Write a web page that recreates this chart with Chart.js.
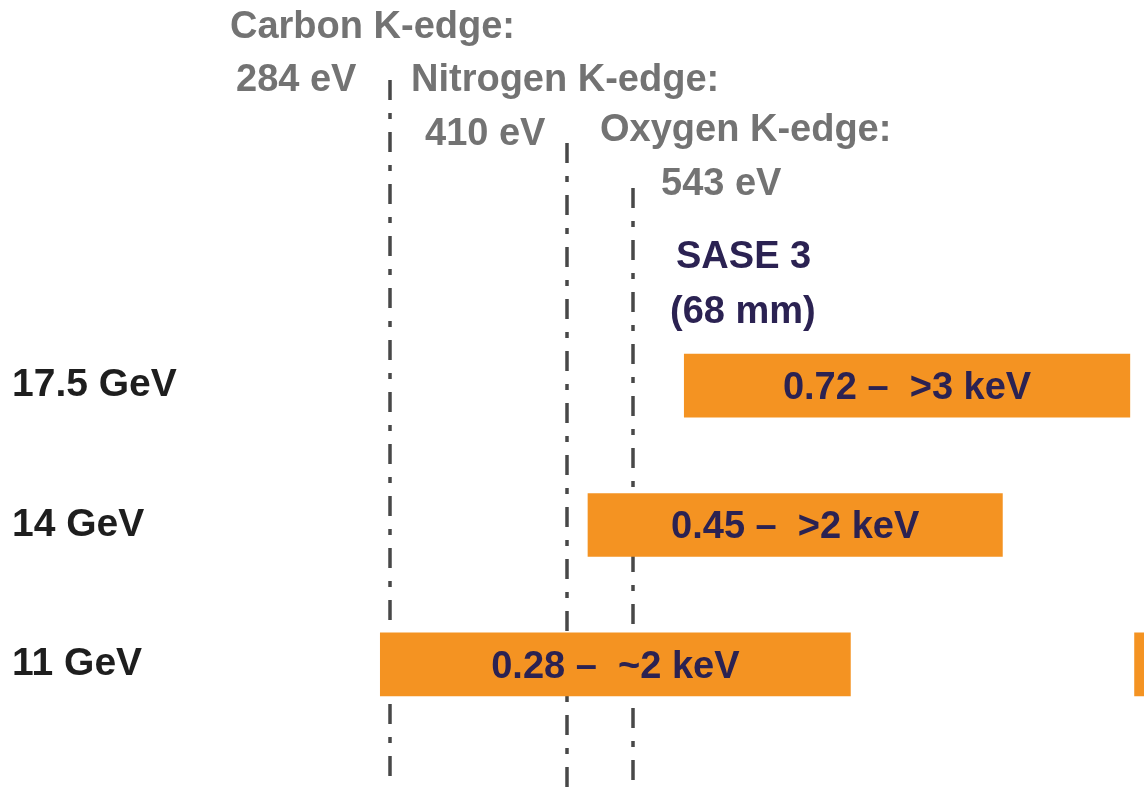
<!DOCTYPE html>
<html>
<head>
<meta charset="utf-8">
<script src="https://cdn.jsdelivr.net/npm/chart.js@4"></script>
<style>
  body { margin: 0; background: #fff; }
  #wrap { width: 1144px; height: 787px; position: relative; }
</style>
</head>
<body>
<div id="wrap"><canvas id="sase3Chart"></canvas></div>
<script>
// electron beam energies (rows)
const beamEnergies = ['17.5 GeV', '14 GeV', '11 GeV'];
// photon range bars, schematic position along the axis (0..100)
const rangeStart = [51.3, 41.1, 19.1];
const rangeEnd = [98.5, 85.0, 68.9];
const rangeLabels = ['0.72 \u2013  >3 keV', '0.45 \u2013  >2 keV', '0.28 \u2013  ~2 keV'];
// next bar peeking in at the right edge (11 GeV row only)
const edgeBar = [null, null, [99.0, 104]];

// absorption edges
const edgeNames = ['Carbon K-edge:', 'Nitrogen K-edge:', 'Oxygen K-edge:'];
const edgeEnergies = ['284 eV', '410 eV', '543 eV'];
const edgePositions = [20.1, 38.9, 45.9];

// placement of edge captions (pixels)
const edgeLayout = [
  { nameX: 230, nameY: 28, eX: 236, eY: 81, lineTop: 80 },
  { nameX: 411, nameY: 81, eX: 425, eY: 135, lineTop: 143 },
  { nameX: 600, nameY: 131, eX: 661, eY: 185, lineTop: 188 }
];

const FONT = '"Liberation Sans", Arial, sans-serif';
const GREY = '#737373';
const NAVY = '#2b2252';
const ORANGE = '#F49322';

const edgeLines = {
  id: 'edgeLines',
  beforeDatasetsDraw(chart) {
    const ctx = chart.ctx;
    const x = chart.scales.x;
    ctx.save();
    ctx.strokeStyle = '#484848';
    ctx.lineWidth = 3.5;
    ctx.setLineDash([20, 13, 6, 13]);
    edgePositions.forEach((v, i) => {
      const px = Math.round(x.getPixelForValue(v));
      ctx.beginPath();
      ctx.moveTo(px, edgeLayout[i].lineTop);
      ctx.lineTo(px, chart.height);
      ctx.stroke();
    });
    ctx.restore();
  },
  afterDatasetsDraw(chart) {
    const ctx = chart.ctx;
    ctx.save();
    ctx.textBaseline = 'middle';
    ctx.textAlign = 'left';
    ctx.font = 'bold 38px ' + FONT;
    ctx.fillStyle = GREY;
    edgeNames.forEach((name, i) => {
      const l = edgeLayout[i];
      ctx.fillText(name, l.nameX, l.nameY);
      ctx.fillText(edgeEnergies[i], l.eX, l.eY);
    });
    ctx.fillStyle = NAVY;
    ctx.fillText('SASE 3', 676, 258);
    ctx.fillText('(68 mm)', 670, 313);

    // range labels centred in the bars
    ctx.textAlign = 'center';
    const meta = chart.getDatasetMeta(0);
    meta.data.forEach((bar, i) => {
      const cx = (bar.x + bar.base) / 2;
      ctx.fillText(rangeLabels[i], cx, bar.y + 3);
    });
    ctx.restore();
  }
};

new Chart(document.getElementById('sase3Chart'), {
  type: 'bar',
  data: {
    labels: beamEnergies,
    datasets: [
      {
        label: 'SASE 3',
        data: rangeStart.map((s, i) => [s, rangeEnd[i]]),
        backgroundColor: ORANGE,
        borderWidth: 0,
        barThickness: 63,
        grouped: false
      },
      {
        label: 'next',
        data: edgeBar,
        backgroundColor: ORANGE,
        borderWidth: 0,
        barThickness: 63,
        grouped: false
      }
    ]
  },
  options: {
    indexAxis: 'y',
    responsive: true,
    maintainAspectRatio: false,
    animation: false,
    layout: {
      padding: { top: 316, bottom: 53, left: 12, right: 0 }
    },
    plugins: {
      legend: { display: false },
      tooltip: { enabled: false }
    },
    scales: {
      x: {
        type: 'linear',
        min: 0,
        max: 100,
        display: false
      },
      y: {
        grid: { display: false },
        border: { display: false },
        afterFit(scale) { scale.width = 188; },
        ticks: {
          crossAlign: 'far',
          color: '#1e1e1e',
          font: { family: FONT, size: 39, weight: 'bold' }
        }
      }
    }
  },
  plugins: [edgeLines]
});
</script>
</body>
</html>
